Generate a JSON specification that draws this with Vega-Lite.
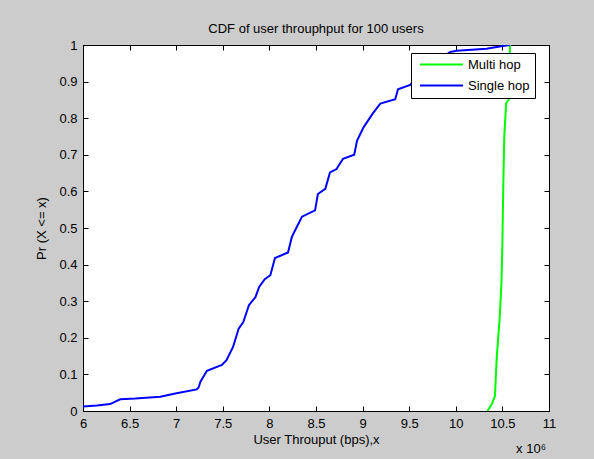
{
  "$schema": "https://vega.github.io/schema/vega-lite/v6.json",
  "width": 466,
  "height": 366,
  "autosize": {"type": "none"},
  "padding": {"left": 83, "top": 45, "right": 45, "bottom": 48},
  "background": "#cccccc",
  "config": {
    "font": "Liberation Sans",
    "view": {"stroke": "black", "strokeWidth": 1, "fill": "white"},
    "axis": {
      "tickSize": -5,
      "tickColor": "black",
      "domainColor": "black",
      "labelFontSize": 13,
      "labelColor": "black",
      "labelFont": "Liberation Sans",
      "grid": false,
      "titleFontSize": 13,
      "titleFontWeight": "normal",
      "titleColor": "black",
      "titleFont": "Liberation Sans",
      "labelFlush": false,
      "labelOverlap": false
    }
  },
  "title": {
    "text": "CDF of user throuphput for 100 users",
    "fontSize": 13,
    "fontWeight": "normal",
    "color": "black",
    "font": "Liberation Sans",
    "offset": 3
  },
  "datasets": {
    "cdf": [
      {"series": "Multi hop", "x": 10.34, "p": 0.0},
      {"series": "Multi hop", "x": 10.35, "p": 0.005},
      {"series": "Multi hop", "x": 10.385, "p": 0.018},
      {"series": "Multi hop", "x": 10.42, "p": 0.041},
      {"series": "Multi hop", "x": 10.44, "p": 0.15},
      {"series": "Multi hop", "x": 10.47, "p": 0.25},
      {"series": "Multi hop", "x": 10.49, "p": 0.35},
      {"series": "Multi hop", "x": 10.5, "p": 0.459},
      {"series": "Multi hop", "x": 10.51, "p": 0.622},
      {"series": "Multi hop", "x": 10.52, "p": 0.749},
      {"series": "Multi hop", "x": 10.54, "p": 0.84},
      {"series": "Multi hop", "x": 10.575, "p": 0.854},
      {"series": "Multi hop", "x": 10.58, "p": 1.0},
      {"series": "Single hop", "x": 6.0, "p": 0.012},
      {"series": "Single hop", "x": 6.15, "p": 0.015},
      {"series": "Single hop", "x": 6.29, "p": 0.019},
      {"series": "Single hop", "x": 6.4, "p": 0.032},
      {"series": "Single hop", "x": 6.56, "p": 0.034},
      {"series": "Single hop", "x": 6.83, "p": 0.039},
      {"series": "Single hop", "x": 6.99, "p": 0.048},
      {"series": "Single hop", "x": 7.22, "p": 0.059},
      {"series": "Single hop", "x": 7.24, "p": 0.064},
      {"series": "Single hop", "x": 7.26, "p": 0.08},
      {"series": "Single hop", "x": 7.33, "p": 0.11},
      {"series": "Single hop", "x": 7.49, "p": 0.126},
      {"series": "Single hop", "x": 7.54, "p": 0.139},
      {"series": "Single hop", "x": 7.61, "p": 0.175},
      {"series": "Single hop", "x": 7.67, "p": 0.225},
      {"series": "Single hop", "x": 7.72, "p": 0.243},
      {"series": "Single hop", "x": 7.78, "p": 0.289},
      {"series": "Single hop", "x": 7.85, "p": 0.311},
      {"series": "Single hop", "x": 7.89, "p": 0.339},
      {"series": "Single hop", "x": 7.95, "p": 0.36},
      {"series": "Single hop", "x": 8.01, "p": 0.371},
      {"series": "Single hop", "x": 8.06, "p": 0.418},
      {"series": "Single hop", "x": 8.2, "p": 0.433},
      {"series": "Single hop", "x": 8.24, "p": 0.475},
      {"series": "Single hop", "x": 8.31, "p": 0.511},
      {"series": "Single hop", "x": 8.35, "p": 0.531},
      {"series": "Single hop", "x": 8.49, "p": 0.548},
      {"series": "Single hop", "x": 8.52, "p": 0.593},
      {"series": "Single hop", "x": 8.6, "p": 0.607},
      {"series": "Single hop", "x": 8.65, "p": 0.652},
      {"series": "Single hop", "x": 8.72, "p": 0.661},
      {"series": "Single hop", "x": 8.79, "p": 0.689},
      {"series": "Single hop", "x": 8.91, "p": 0.7},
      {"series": "Single hop", "x": 8.94, "p": 0.738},
      {"series": "Single hop", "x": 9.01, "p": 0.775},
      {"series": "Single hop", "x": 9.11, "p": 0.813},
      {"series": "Single hop", "x": 9.19, "p": 0.84},
      {"series": "Single hop", "x": 9.35, "p": 0.852},
      {"series": "Single hop", "x": 9.38, "p": 0.879},
      {"series": "Single hop", "x": 9.51, "p": 0.891},
      {"series": "Single hop", "x": 9.65, "p": 0.93},
      {"series": "Single hop", "x": 9.85, "p": 0.965},
      {"series": "Single hop", "x": 9.94, "p": 0.981},
      {"series": "Single hop", "x": 10.01, "p": 0.984},
      {"series": "Single hop", "x": 10.33, "p": 0.99},
      {"series": "Single hop", "x": 10.47, "p": 0.996},
      {"series": "Single hop", "x": 10.58, "p": 1.0}
    ],
    "note": [{"x": 11, "p": 0, "t": "x 10⁶"}]
  },
  "layer": [
    {
      "data": {"name": "cdf"},
      "mark": {"type": "line", "strokeWidth": 2, "clip": true},
      "encoding": {
        "x": {
          "field": "x", "type": "quantitative",
          "scale": {"domain": [6, 11], "nice": false, "zero": false},
          "axis": {
            "orient": "bottom",
            "title": "User Throuput (bps),x",
            "values": [6, 6.5, 7, 7.5, 8, 8.5, 9, 9.5, 10, 10.5, 11],
            "format": "~g",
            "labelPadding": 11,
            "titlePadding": 3
          }
        },
        "y": {
          "field": "p", "type": "quantitative",
          "scale": {"domain": [0, 1], "nice": false},
          "axis": {
            "orient": "left",
            "title": "Pr (X <= x)",
            "values": [0, 0.1, 0.2, 0.3, 0.4, 0.5, 0.6, 0.7, 0.8, 0.9, 1],
            "format": "~g",
            "labelPadding": 11,
            "titlePadding": 10
          }
        },
        "color": {
          "field": "series", "type": "nominal",
          "scale": {"domain": ["Multi hop", "Single hop"], "range": ["#00ff00", "#0000ff"]},
          "legend": {
            "title": null,
            "orient": "none",
            "legendX": 328,
            "legendY": 8,
            "fillColor": "white",
            "strokeColor": "black",
            "padding": 5,
            "symbolType": "M-4,0H4",
            "symbolSize": 116,
            "symbolStrokeWidth": 2,
            "symbolOffset": 19,
            "labelOffset": 20,
            "labelFontSize": 13,
            "labelFont": "Liberation Sans",
            "labelColor": "black",
            "rowPadding": 7
          }
        }
      }
    },
    {
      "data": {"name": "cdf"},
      "mark": {"type": "line", "opacity": 0},
      "encoding": {
        "x": {
          "field": "x", "type": "quantitative",
          "axis": {
            "orient": "top", "labels": false, "title": null,
            "values": [6, 6.5, 7, 7.5, 8, 8.5, 9, 9.5, 10, 10.5, 11]
          }
        },
        "y": {
          "field": "p", "type": "quantitative",
          "axis": {
            "orient": "right", "labels": false, "title": null,
            "values": [0, 0.1, 0.2, 0.3, 0.4, 0.5, 0.6, 0.7, 0.8, 0.9, 1]
          }
        }
      }
    },
    {
      "data": {"name": "note"},
      "mark": {"type": "text", "align": "right", "baseline": "alphabetic", "dx": -3, "dy": 42, "fontSize": 13, "font": "Liberation Sans", "color": "black"},
      "encoding": {
        "x": {"field": "x", "type": "quantitative", "axis": null},
        "y": {"field": "p", "type": "quantitative", "axis": null},
        "text": {"field": "t"}
      }
    }
  ],
  "resolve": {"axis": {"x": "independent", "y": "independent"}}
}
